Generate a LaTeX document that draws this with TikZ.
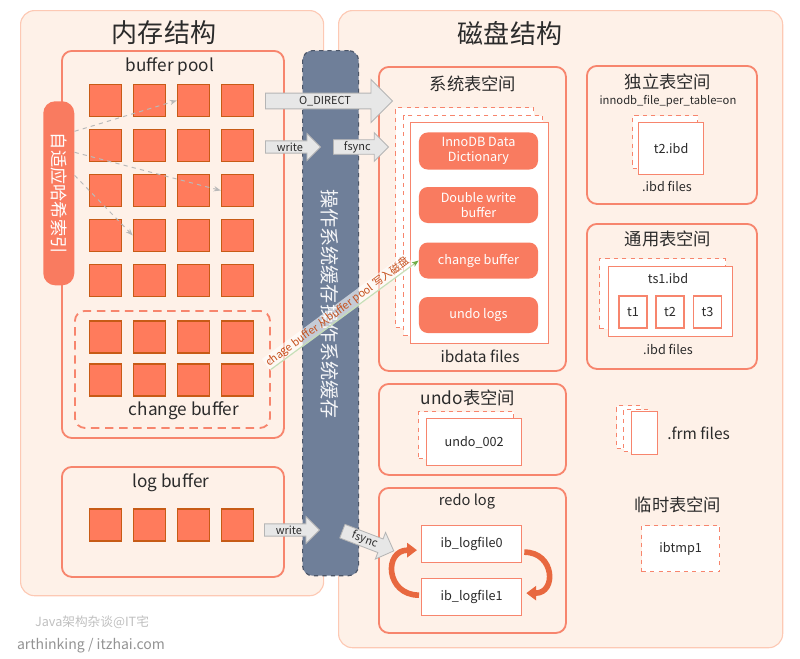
\documentclass[tikz,border=0pt]{standalone}
\usepackage{fontspec}
\setmainfont{Noto Sans CJK SC}
\usepackage{tikz}
\usetikzlibrary{shapes.arrows, arrows.meta, positioning, calc}
\definecolor{panelfill}{HTML}{FEF1E8}
\definecolor{panelline}{HTML}{FDC9B4}
\definecolor{salmon}{HTML}{F7856D}
\definecolor{tilefill}{HTML}{FF7B5C}
\definecolor{tileline}{HTML}{C75B16}
\definecolor{pillfill}{HTML}{F97B60}
\definecolor{barfill}{HTML}{6F7F99}
\definecolor{barline}{HTML}{4B5567}
\definecolor{arrfill}{HTML}{E7E7E7}
\definecolor{arrline}{HTML}{B5B5B5}
\definecolor{flowgreen}{HTML}{70AD47}
\definecolor{labelred}{HTML}{C5501C}
\definecolor{inktext}{HTML}{2B2B2B}
\definecolor{loopcol}{HTML}{E8683F}

\begin{document}
\begin{tikzpicture}[
    x=0.025cm, y=-0.025cm,
    every node/.style={text=inktext},
    panel/.style={rectangle, draw=panelline, fill=panelfill, line width=0.8pt,
        rounded corners=0.35cm, anchor=north west, inner sep=0pt},
    area/.style={rectangle, draw=salmon, fill=panelfill, line width=1.3pt,
        rounded corners=0.25cm, anchor=north west, inner sep=0pt},
    page/.style={rectangle, draw=salmon, fill=white, line width=0.9pt,
        anchor=north west, inner sep=0pt},
    ghost/.style={page, dashed},
    tile/.style={rectangle, draw=tileline, fill=tilefill, line width=1pt,
        minimum size=0.8cm, inner sep=0pt},
    pill/.style={rectangle, draw=none, fill=pillfill, rounded corners=0.22cm,
        minimum width=2.975cm, minimum height=0.9cm, align=center,
        text=white, font=\fontsize{9}{11}\selectfont},
    bigtitle/.style={font=\fontsize{18.5}{20}\selectfont},
    subtitle/.style={font=\fontsize{12.3}{14}\selectfont},
    biglbl/.style={font=\fontsize{12.2}{14}\selectfont},
    lbl/.style={font=\fontsize{11}{13}\selectfont},
    small/.style={font=\fontsize{9}{11}\selectfont},
    tiny/.style={font=\fontsize{8}{10}\selectfont},
    blockarrow/.style={single arrow, draw=arrline, fill=arrfill, line width=0.6pt,
        single arrow tip angle=90, inner sep=0.8pt, anchor=tail,
        font=\fontsize{7.8}{9}\selectfont},
    shortarrow/.style={blockarrow, single arrow head extend=0.175cm,
        minimum width=0.675cm, minimum height=1.375cm},
    hashlink/.style={-{Stealth[length=5pt]}, dashed, draw=gray!55, line width=0.7pt},
    looparrow/.style={-{Triangle[width=10pt,length=7pt]}, draw=loopcol, line width=4pt}
    ]
    \useasboundingbox (0,0) rectangle (800,658);

    % memory side
    \node[panel, minimum width=7.575cm, minimum height=14.625cm] (mem) at (20,10) {};
    \node[bigtitle] at (164,33) {内存结构};
    \node[area, minimum width=5.55cm, minimum height=9.675cm] (bpool) at (61,50) {};
    \node[biglbl] at (170,67) {buffer pool};
    \node[area, dashed, dash pattern=on 6pt off 4pt, minimum width=4.875cm,
        minimum height=2.925cm] (chgbuf) at (74,310) {};
    \node[biglbl] at (184,411) {change buffer};
    \foreach \c in {0,...,3} {
        \foreach \r in {0,...,4}
            \node[tile] (bp-\r-\c) at (105.5+44*\c, 100.5+45*\r) {};
        \node[tile] (cb-0-\c) at (105.5+44*\c, 337) {};
        \node[tile] (cb-1-\c) at (105.5+44*\c, 380) {};
    }
    \node[area, minimum width=5.55cm, minimum height=2.75cm] (logbuf) at (61,466) {};
    \node[biglbl] at (171,483) {log buffer};
    \foreach \c in {0,...,3}
        \node[tile] (lb-\c) at (105.5+44*\c, 525) {};

    \node[rectangle, fill=pillfill, rounded corners=0.3cm, minimum width=0.775cm,
        minimum height=4.6cm, anchor=north west] (hash) at (43,101) {};
    \node[rotate=-90, text=white, font=\fontsize{12.3}{14}\selectfont] at (hash.center) {自适应哈希索引};
    \draw[hashlink] ($(hash.east)+(0,-62)$) -- (bp-0-2.west);
    \draw[hashlink] ($(hash.east)+(0,-41)$) -- (bp-2-3.west);
    \draw[hashlink] ($(hash.east)+(0,-18)$) -- (bp-3-1.west);

    % disk side
    \node[panel, minimum width=11.1cm, minimum height=15.925cm] (disk) at (338,10) {};
    \node[bigtitle] at (510,33) {磁盘结构};

    \node[area, minimum width=4.675cm, minimum height=7.6cm] (systs) at (378,66) {};
    \node[subtitle] at (473,84) {系统表空间};
    \node[ghost, minimum width=3.45cm, minimum height=5.5cm] (ibd-b) at (395,107) {};
    \node[ghost, minimum width=3.475cm, minimum height=5.5cm] (ibd-m) at (403,115) {};
    \node[page, minimum width=3.45cm, minimum height=5.525cm] (ibd-f) at (410,122) {};
    \node[pill] (dict) at (478.5,151) {InnoDB Data\\Dictionary};
    \node[pill] (dblwr) at (478.5,205) {Double write\\buffer};
    \node[pill] (cbpill) at (478.5,260.5) {change buffer};
    \node[pill] (undolog) at (478.5,315) {undo logs};
    \node[lbl] at (480,356) {ibdata files};

    \node[area, minimum width=4.25cm, minimum height=3.45cm] (indts) at (586,65) {};
    \node[subtitle] at (668,82) {独立表空间};
    \node[tiny] at (668,101) {innodb\_file\_per\_table=on};
    \node[ghost, minimum width=1.625cm, minimum height=1.325cm] at (632,115) {};
    \node[page, minimum width=1.625cm, minimum height=1.3cm] (t2ibd) at (638,122) {};
    \node[small] at (t2ibd.center) {t2.ibd};
    \node[small] at (667,186) {.ibd files};

    \node[area, minimum width=4.25cm, minimum height=3.625cm] (gents) at (586,223) {};
    \node[subtitle] at (668,239) {通用表空间};
    \node[ghost, minimum width=3.15cm, minimum height=1.75cm] at (599,258) {};
    \node[page, minimum width=3.1cm, minimum height=1.75cm] (ts1) at (608,266) {};
    \node[small] at (668,279) {ts1.ibd};
    \foreach \t/\x in {t1/633, t2/670, t3/707.5}
        \node[page, anchor=center, minimum width=0.7cm, minimum height=0.8cm, small] (ts1-\t) at (\x,312) {\t};
    \node[small] at (668,349) {.ibd files};

    \node[area, minimum width=4.675cm, minimum height=2.275cm] (undots) at (378,383) {};
    \node[subtitle] at (468,398) {undo表空间};
    \node[ghost, minimum width=2.375cm, minimum height=1.175cm] at (418,411) {};
    \node[page, minimum width=2.375cm, minimum height=1.175cm] (undo2) at (426,418) {};
    \node[small] at (undo2.center) {undo\_002};

    \node[area, minimum width=4.675cm, minimum height=3.625cm] (redo) at (378,487) {};
    \node[font=\fontsize{10.4}{12}\selectfont] at (467,501) {redo log};
    \node[page, minimum width=2.5cm, minimum height=0.925cm] (log0) at (421,525) {};
    \node[small] at (log0.center) {ib\_logfile0};
    \node[page, minimum width=2.5cm, minimum height=0.925cm] (log1) at (421,578) {};
    \node[small] at (log1.center) {ib\_logfile1};
    \draw[looparrow] ($(log1.west)+(-2,-2)$) to[out=180, in=180, looseness=1.9] ($(log0.west)+(-4,6)$);
    \draw[looparrow] ($(log0.east)+(2,8)$) to[out=0, in=0, looseness=1.9] ($(log1.east)+(4,-4)$);

    \node[ghost, minimum width=0.6cm, minimum height=1.075cm] at (616,405) {};
    \node[ghost, minimum width=0.625cm, minimum height=1.05cm] at (623,409) {};
    \node[page, minimum width=0.65cm, minimum height=1.075cm] (frm) at (631,411) {};
    \node[lbl, right=0.1cm of frm] {.frm files};

    \node[subtitle] at (678,505) {临时表空间};
    \node[ghost, minimum width=1.95cm, minimum height=1.15cm] (ibtmp) at (641,525) {};
    \node[small] at (ibtmp.center) {ibtmp1};

    % os cache column
    \node[rectangle, draw=barline, dashed, fill=barfill, line width=0.8pt,
        rounded corners=0.25cm, minimum width=1.4cm, minimum height=13.125cm,
        anchor=north west] (oscache) at (302,50) {};
    \node[rotate=-90, text=white!92!barfill, font=\fontsize{13.6}{15}\selectfont]
        at (330,304) {操作系统缓存操作系统缓存};

    % flush arrows
    \node[blockarrow, single arrow head extend=0.275cm, minimum width=1.075cm,
        minimum height=3.175cm] (odirect) at (265,101) {O\_DIRECT};
    \node[shortarrow] (write1) at (265,147) {write};
    \node[shortarrow] (fsync1) at (333,147) {fsync};
    \node[shortarrow] (write2) at (264,530) {write};
    \node[shortarrow, rotate=-21] (fsync2) at (342,531) {fsync};

    \draw[-{Stealth[length=5pt]}, flowgreen, line width=0.8pt] (chgbuf.east) -- (cbpill.west)
        node[pos=0.48, sloped, above=-1pt, fill=white, fill opacity=0.6, text opacity=1,
            text=labelred, inner sep=1pt, font=\fontsize{7.6}{9}\selectfont]
        {chage buffer 从buffer pool 写入磁盘};

    % footer
    \node[text=gray!50, font=\fontsize{9}{11}\selectfont] at (92,622) {Java架构杂谈@IT宅};
    \node[text=gray!85, font=\fontsize{10}{12}\selectfont] at (91,646) {arthinking / itzhai.com};
\end{tikzpicture}
\end{document}
